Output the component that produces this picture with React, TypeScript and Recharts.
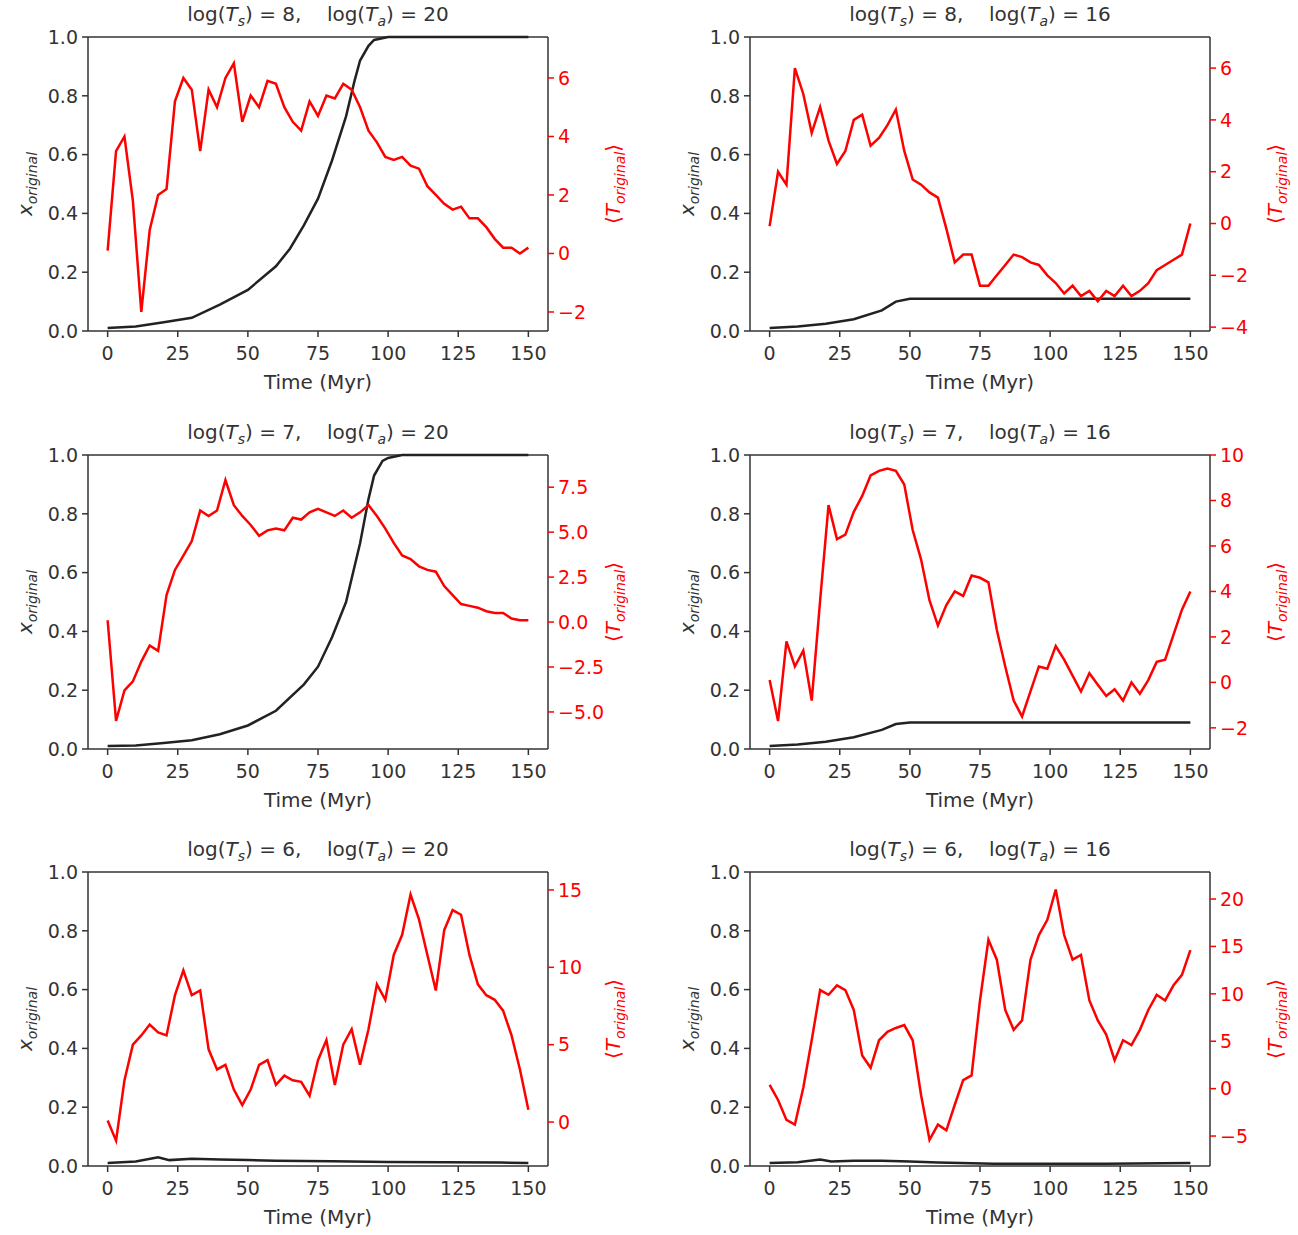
import { LineChart, Line, XAxis, YAxis, ReferenceLine } from 'recharts'

// time grid for the <T_original> curves (Myr)
const tRed = [0, 3, 6, 9, 12, 15, 18, 21, 24, 27, 30, 33, 36, 39, 42, 45, 48, 51, 54, 57, 60, 63, 66, 69, 72, 75,
  78, 81, 84, 87, 90, 93, 96, 99, 102, 105, 108, 111, 114, 117, 120, 123, 126, 129, 132, 135, 138, 141, 144, 147, 150]

const red1 = [0.1, 3.5, 4.0, 1.8, -2.0, 0.8, 2.0, 2.2, 5.2, 6.0, 5.6, 3.5, 5.6, 5.0, 6.0, 6.5, 4.5, 5.4, 5.0, 5.9, 5.8, 5.0, 4.5, 4.2, 5.2, 4.7,
  5.4, 5.3, 5.8, 5.6, 5.0, 4.2, 3.8, 3.3, 3.2, 3.3, 3.0, 2.9, 2.3, 2.0, 1.7, 1.5, 1.6, 1.2, 1.2, 0.9, 0.5, 0.2, 0.2, 0.0, 0.2]
const red2 = [-0.1, 2.0, 1.5, 6.0, 5.0, 3.5, 4.5, 3.2, 2.3, 2.8, 4.0, 4.2, 3.0, 3.3, 3.8, 4.4, 2.8, 1.7, 1.5, 1.2, 1.0, -0.2, -1.5, -1.2, -1.2, -2.4,
  -2.4, -2.0, -1.6, -1.2, -1.3, -1.5, -1.6, -2.0, -2.3, -2.7, -2.4, -2.8, -2.6, -3.0, -2.6, -2.8, -2.4, -2.8, -2.6, -2.3, -1.8, -1.6, -1.4, -1.2, 0.0]
const red3 = [0.1, -5.5, -3.8, -3.3, -2.2, -1.3, -1.6, 1.5, 2.9, 3.7, 4.5, 6.2, 5.9, 6.2, 7.9, 6.5, 5.9, 5.4, 4.8, 5.1, 5.2, 5.1, 5.8, 5.7, 6.1, 6.3,
  6.1, 5.9, 6.2, 5.8, 6.1, 6.5, 5.9, 5.2, 4.4, 3.7, 3.5, 3.1, 2.9, 2.8, 2.0, 1.5, 1.0, 0.9, 0.8, 0.6, 0.5, 0.5, 0.2, 0.1, 0.1]
const red4 = [0.1, -1.7, 1.8, 0.7, 1.4, -0.8, 3.6, 7.8, 6.3, 6.5, 7.5, 8.2, 9.1, 9.3, 9.4, 9.3, 8.7, 6.7, 5.4, 3.6, 2.5, 3.4, 4.0, 3.8, 4.7, 4.6,
  4.4, 2.3, 0.7, -0.8, -1.5, -0.4, 0.7, 0.6, 1.6, 1.0, 0.3, -0.4, 0.4, -0.1, -0.6, -0.3, -0.8, 0.0, -0.5, 0.1, 0.9, 1.0, 2.1, 3.2, 4.0]
const red5 = [0.1, -1.2, 2.7, 5.0, 5.6, 6.3, 5.8, 5.6, 8.2, 9.8, 8.2, 8.5, 4.7, 3.4, 3.7, 2.1, 1.1, 2.1, 3.7, 4.0, 2.4, 3.0, 2.7, 2.6, 1.7, 4.0,
  5.3, 2.4, 5.0, 6.0, 3.7, 6.0, 8.9, 7.9, 10.8, 12.1, 14.7, 13.1, 10.8, 8.5, 12.4, 13.7, 13.4, 10.8, 8.9, 8.2, 7.9, 7.2, 5.6, 3.4, 0.8]
const red6 = [0.4, -1.2, -3.3, -3.8, 0.1, 5.1, 10.4, 9.9, 10.9, 10.4, 8.3, 3.5, 2.2, 5.1, 6.0, 6.4, 6.7, 5.1, -0.7, -5.4, -3.8, -4.4, -1.7, 0.9, 1.4, 9.3,
  15.7, 13.6, 8.3, 6.2, 7.2, 13.6, 16.2, 17.8, 21.0, 16.2, 13.6, 14.1, 9.3, 7.2, 5.7, 3.0, 5.1, 4.6, 6.2, 8.3, 9.9, 9.3, 10.9, 12.0, 14.6]

// x_original curves
const tBlack1 = [0, 10, 20, 30, 40, 50, 60, 65, 70, 75, 80, 85, 88, 90, 93, 95, 100, 150]
const black1 = [0.01, 0.015, 0.03, 0.045, 0.09, 0.14, 0.22, 0.28, 0.36, 0.45, 0.58, 0.73, 0.85, 0.92, 0.97, 0.99, 1.0, 1.0]
const tBlack2 = [0, 10, 20, 30, 40, 45, 50, 150]
const black2 = [0.01, 0.015, 0.025, 0.04, 0.07, 0.1, 0.11, 0.11]
const tBlack3 = [0, 10, 20, 30, 40, 50, 60, 70, 75, 80, 85, 90, 93, 95, 98, 100, 105, 150]
const black3 = [0.01, 0.012, 0.02, 0.03, 0.05, 0.08, 0.13, 0.22, 0.28, 0.38, 0.5, 0.7, 0.85, 0.93, 0.98, 0.99, 1.0, 1.0]
const tBlack4 = [0, 10, 20, 30, 40, 45, 50, 150]
const black4 = [0.01, 0.015, 0.025, 0.04, 0.065, 0.085, 0.09, 0.09]
const tBlack5 = [0, 10, 18, 22, 30, 40, 50, 60, 80, 100, 120, 140, 150]
const black5 = [0.01, 0.015, 0.03, 0.02, 0.025, 0.022, 0.02, 0.018, 0.016, 0.014, 0.013, 0.012, 0.01]
const tBlack6 = [0, 10, 18, 22, 30, 40, 50, 60, 80, 100, 120, 150]
const black6 = [0.01, 0.013, 0.022, 0.015, 0.018, 0.018, 0.015, 0.012, 0.008, 0.008, 0.008, 0.01]

const xTicks = [0, 25, 50, 75, 100, 125, 150]
const leftTicks = [0, 0.2, 0.4, 0.6, 0.8, 1.0]

const panels = [
  { ts: 8, ta: 20, red: red1, tb: tBlack1, black: black1, dom: [-2.65, 7.4], ticks: [-2, 0, 2, 4, 6], dec: 0 },
  { ts: 8, ta: 16, red: red2, tb: tBlack2, black: black2, dom: [-4.15, 7.2], ticks: [-4, -2, 0, 2, 4, 6], dec: 0 },
  { ts: 7, ta: 20, red: red3, tb: tBlack3, black: black3, dom: [-7.06, 9.29], ticks: [-5, -2.5, 0, 2.5, 5, 7.5], dec: 1 },
  { ts: 7, ta: 16, red: red4, tb: tBlack4, black: black4, dom: [-2.93, 10], ticks: [-2, 0, 2, 4, 6, 8, 10], dec: 0 },
  { ts: 6, ta: 20, red: red5, tb: tBlack5, black: black5, dom: [-2.84, 16.16], ticks: [0, 5, 10, 15], dec: 0 },
  { ts: 6, ta: 16, red: red6, tb: tBlack6, black: black6, dom: [-8.16, 22.85], ticks: [-5, 0, 5, 10, 15, 20], dec: 0 },
]

const FONT = 'DejaVu Sans'
const DARK = '#333'
const tickDark = { fill: DARK, fontSize: 19, fontFamily: FONT }
const tickRed = { fill: 'red', fontSize: 19, fontFamily: FONT }
const fmtNum = (v: number, d: number) => (v < 0 ? '\u2212' : '') + Math.abs(v).toFixed(d)

const Panel = ({ p, idx }: { p: typeof panels[number]; idx: number }) => {
  const col = idx % 2
  const row = Math.floor(idx / 2)
  const plotLeft = col === 0 ? 88 : 750
  const plotTop = [37, 455, 872][row]
  const redData = tRed.map((t, i) => ({ t, v: p.red[i] }))
  const blackData = p.tb.map((t, i) => ({ t, x: p.black[i] }))
  return (
    <div style={{ position: 'absolute', left: plotLeft - 80, top: plotTop - 30 }}>
      <div style={{ position: 'absolute', left: 80, width: 460, top: -5, textAlign: 'center', fontFamily: FONT, fontSize: 20, color: DARK, whiteSpace: 'pre' }}>
        log(<i>T</i><sub style={{ fontSize: 14 }}><i>s</i></sub>) = {p.ts},    log(<i>T</i><sub style={{ fontSize: 14 }}><i>a</i></sub>) = {p.ta}
      </div>
      <LineChart width={640} height={392} margin={{ top: 30, right: 0, left: 0, bottom: 0 }}>
        <XAxis xAxisId="b" dataKey="t" type="number" domain={[-7, 157]} ticks={xTicks} allowDuplicatedCategory={false}
          tick={tickDark} tickSize={6} tickMargin={10} height={68} stroke={DARK} strokeWidth={1.5}
          label={{ value: 'Time (Myr)', position: 'insideBottom', offset: 10, fill: DARK, fontSize: 20, fontFamily: FONT }} />
        <YAxis yAxisId="l" domain={[0, 1]} ticks={leftTicks} tickFormatter={(v: number) => v.toFixed(1)} width={80}
          tick={tickDark} tickSize={6} tickMargin={4} stroke={DARK} strokeWidth={1.5}
          label={{
            content: () => (
              <text transform="translate(24 177) rotate(-90)" textAnchor="middle" fill={DARK} fontFamily={FONT} fontSize={20}>
                <tspan fontStyle="italic">x</tspan><tspan fontStyle="italic" fontSize={14} dy={5}>original</tspan>
              </text>
            ),
          }} />
        <YAxis yAxisId="r" orientation="right" domain={p.dom} ticks={p.ticks} tickFormatter={(v: number) => fmtNum(v, p.dec)} width={100}
          tick={tickRed} tickSize={6} tickMargin={4} stroke={DARK} strokeWidth={1.5} tickLine={{ stroke: 'red' }}
          label={{
            content: () => (
              <text transform="translate(612 177) rotate(-90)" textAnchor="middle" fill="red" fontFamily={FONT} fontSize={20}>
                ⟨<tspan fontStyle="italic">T</tspan><tspan fontStyle="italic" fontSize={14} dy={5}>original</tspan><tspan dy={-5}>⟩</tspan>
              </text>
            ),
          }} />
        <ReferenceLine xAxisId="b" yAxisId="l" y={1} stroke={DARK} strokeWidth={1.5} />
        <Line xAxisId="b" yAxisId="l" data={blackData} dataKey="x" stroke="#222" strokeWidth={2.5} dot={false} isAnimationActive={false} />
        <Line xAxisId="b" yAxisId="r" data={redData} dataKey="v" stroke="red" strokeWidth={2.5} dot={false} isAnimationActive={false} />
      </LineChart>
    </div>
  )
}

export default function App() {
  return (
    <div style={{ position: 'absolute', left: 0, top: 0, width: 1298, height: 1235, background: '#fff' }}>
      {panels.map((p, i) => <Panel key={i} p={p} idx={i} />)}
    </div>
  )
}
